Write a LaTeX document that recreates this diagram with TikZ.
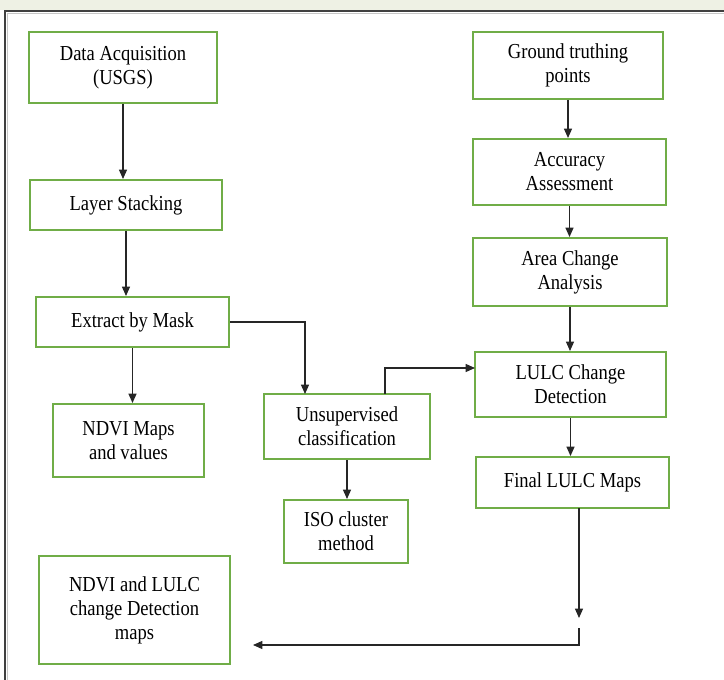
\documentclass[tikz,border=0pt]{standalone}
\usepackage{fontspec}
\setmainfont{Liberation Serif}[FakeStretch=0.87]
\usepackage{tikz}
\usetikzlibrary{arrows.meta}
\definecolor{boxgreen}{RGB}{112,173,71}
\definecolor{bandcol}{RGB}{238,241,228}
\definecolor{framecol}{RGB}{64,64,64}

\begin{document}
\begin{tikzpicture}[x=0.75pt, y=-0.75pt, >={Triangle[length=7pt,width=6pt]},
    box/.style={draw=boxgreen, line width=1.5pt, align=center, inner sep=2pt,
                font=\fontsize{16}{18}\selectfont},
    link/.style={->, draw=black!85, line width=0.9pt}]
        \useasboundingbox (0,0) rectangle (724,680);
        % page band and frame
        \fill[bandcol] (0,0) rectangle (724,10);
        \draw[framecol, line width=1.5pt] (5,680) -- (5,11) -- (724,11);
        \draw[gray!45, line width=0.6pt] (7.5,680) -- (7.5,13.5) -- (724,13.5);

        % left column
        \node[box, minimum width=141pt, minimum height=53.25pt] (data) at (123,67.5) {Data Acquisition\\(USGS)};
        \node[box, minimum width=144pt, minimum height=37.5pt] (stack) at (126,205) {Layer Stacking};
        \node[box, minimum width=144.75pt, minimum height=37.5pt] (mask) at (132.5,322) {Extract by Mask};
        \node[box, minimum width=113.25pt, minimum height=54.75pt] (ndvi) at (128.5,440.5) {NDVI Maps\\and values};
        \node[box, minimum width=143.25pt, minimum height=81pt] (maps) at (134.5,610) {NDVI and LULC\\change Detection\\maps};

        % middle column
        \node[box, minimum width=124.5pt, minimum height=48.75pt] (unsup) at (347,426.5) {Unsupervised\\classification};
        \node[box, minimum width=93pt, minimum height=47.25pt] (iso) at (346,531.5) {ISO cluster\\method};

        % right column
        \node[box, minimum width=142.5pt, minimum height=50.25pt] (ground) at (568,65.5) {Ground truthing\\points};
        \node[box, minimum width=144.75pt, minimum height=49.5pt] (acc) at (569.5,172) {Accuracy\\Assessment};
        \node[box, minimum width=145.5pt, minimum height=51pt] (area) at (570,272) {Area Change\\Analysis};
        \node[box, minimum width=143.25pt, minimum height=48.75pt] (lulc) at (570.5,384.5) {LULC Change\\Detection};
        \node[box, minimum width=144.75pt, minimum height=38.25pt] (final) at (572.5,482.5) {Final LULC Maps};

        % turning points
        \coordinate (mtop) at (305,394);
        \coordinate (utop) at (385,394);
        \coordinate (lin) at (475,368);
        \coordinate (fa) at (579,508);
        \coordinate (fb) at (579,618);
        \coordinate (fc) at (579,628);
        \coordinate (mend) at (253,645);

        \draw[link] (data.south) -- (data.south |- stack.north);
        \draw[link] (stack.south) -- (stack.south |- mask.north);
        \draw[link] (mask.south) -- (mask.south |- ndvi.north);
        \draw[link] (mask.east) -| (mtop);
        \draw[link] (unsup.south) -- (unsup.south |- iso.north);
        \draw[link] (utop) |- (lin);
        \draw[link] (ground.south) -- (ground.south |- acc.north);
        \draw[link] (acc.south) -- (acc.south |- area.north);
        \draw[link] (area.south) -- (area.south |- lulc.north);
        \draw[link] (lulc.south) -- (lulc.south |- final.north);
        \draw[link] (fa) -- (fb);
        \draw[link] (fc) |- (mend);
    \end{tikzpicture}
\end{document}
